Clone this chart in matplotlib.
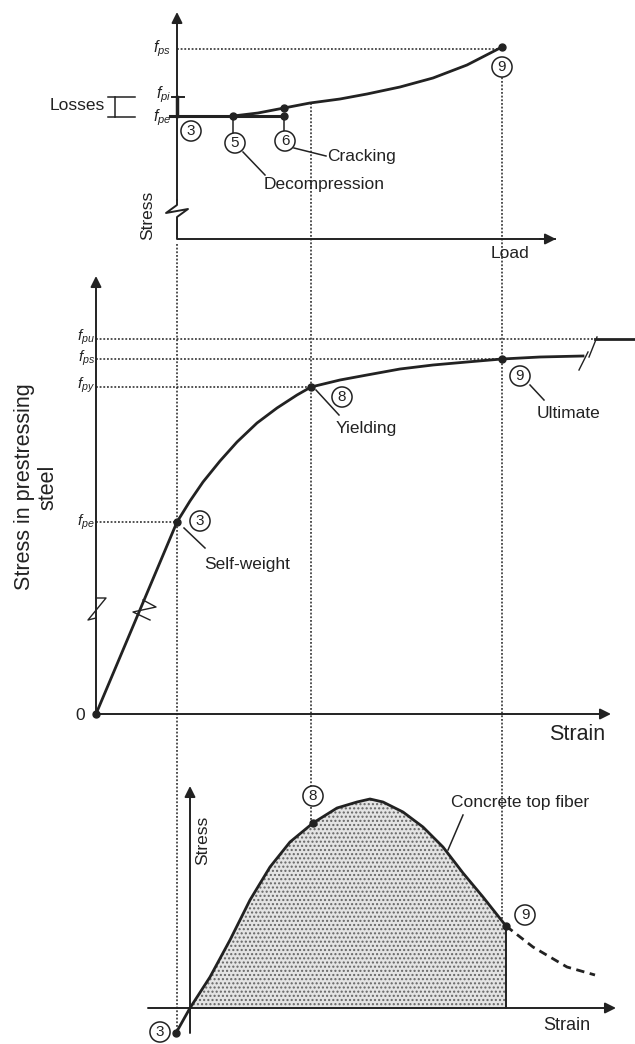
import matplotlib
matplotlib.use("Agg")
import matplotlib.pyplot as plt

plt.rcParams['font.family'] = ['Liberation Sans', 'DejaVu Sans']
plt.rcParams['mathtext.fontset'] = 'custom'
plt.rcParams['mathtext.rm'] = 'Liberation Sans'
plt.rcParams['mathtext.it'] = 'Liberation Sans:italic'
plt.rcParams['hatch.linewidth'] = 1.0

# everything in pixel units (x right, y down)
# top panel: stress in tendon vs load
top_curve_x = [233, 258, 284, 310, 340, 367, 400, 433, 467, 502]
top_curve_y = [116, 113, 108, 103, 99, 94, 87, 78, 65, 47]
top_levels = {"$f_{ps}$": 49, "$f_{pi}$": 95, "$f_{pe}$": 118}

# middle panel: stress-strain of prestressing steel
mid_curve_x = [96, 177, 190, 203, 220, 237, 257, 277, 297, 311, 340, 367, 400, 433, 467, 502, 540, 583]
mid_curve_y = [714, 522, 501, 482, 461, 442, 423, 408, 395, 387, 380, 375, 369, 365, 362, 359, 357, 356]
mid_after_break_x = [595, 635]
mid_after_break_y = [339, 339]
mid_levels = {"$f_{pu}$": 337, "$f_{ps}$": 358, "$f_{py}$": 385, "$f_{pe}$": 522}

# bottom panel: concrete top fiber stress vs strain
bot_curve_x = [176, 190, 210, 230, 250, 270, 290, 313, 337, 357, 370, 383, 403, 423, 443, 463, 483, 506]
bot_curve_y = [1033, 1008, 977, 940, 900, 867, 842, 823, 808, 802, 799, 802, 812, 827, 847, 873, 897, 926]
bot_tail_x = [506, 533, 567, 595]
bot_tail_y = [926, 947, 967, 975]

ink = "#222222"
dot = (0, (1.2, 1.2))

fig = plt.figure(figsize=(6.35, 10.44), dpi=100)
ax = fig.add_axes([0, 0, 1, 1])
ax.set_xlim(0, 635)
ax.set_ylim(1044, 0)
ax.axis("off")


def arrow(x0, y0, x1, y1):
    ax.annotate("", xy=(x1, y1), xytext=(x0, y0),
                arrowprops=dict(arrowstyle="-|>", color=ink, lw=1.4,
                                mutation_scale=16, shrinkA=0, shrinkB=0))


def circ(x, y, s):
    ax.text(x, y, s, ha="center", va="center", fontsize=11, color=ink, zorder=6,
            bbox=dict(boxstyle="circle,pad=0.2", fc="white", ec=ink, lw=1.1))


# ---------------- top panel ----------------
arrow(177, 200, 177, 12)
ax.plot([177, 177, 166, 188, 177, 177, 555], [200, 205, 213, 209, 217, 239, 239],
        color=ink, lw=1.4)
arrow(540, 239, 556, 239)
ax.plot([177, 177], [97, 116], color=ink, lw=2.5)
ax.plot([172, 184], [97, 97], color=ink, lw=1.4)
for lab, y in top_levels.items():
    ax.text(171, y, lab, ha="right", va="center", fontsize=11.5, color=ink)
ax.plot([177, 502], [49, 49], color=ink, lw=1.1, ls=dot)
ax.plot([108, 135], [97, 97], color=ink, lw=1.1)
ax.plot([108, 135], [117, 117], color=ink, lw=1.1)
ax.plot([115, 115], [97, 117], color=ink, lw=1.1)
ax.text(105, 105, "Losses", ha="right", va="center", fontsize=12.5, color=ink)
ax.plot([170, 284], [116, 116], color=ink, lw=2.2)
ax.plot(top_curve_x, top_curve_y, color=ink, lw=2.0)
ax.plot([233, 284, 284, 502], [116, 116, 108, 47], "o", color=ink, ms=5)
ax.plot([233, 233], [116, 134], color=ink, lw=1.1)
ax.plot([284, 284], [116, 132], color=ink, lw=1.1)
circ(191, 131, "3")
circ(235, 143, "5")
circ(285, 141, "6")
circ(502, 67, "9")
ax.plot([243, 265], [152, 175], color=ink, lw=1.1)
ax.plot([294, 326], [148, 156], color=ink, lw=1.1)
ax.text(264, 184, "Decompression", ha="left", va="center", fontsize=12.5, color=ink)
ax.text(327, 156, "Cracking", ha="left", va="center", fontsize=12.5, color=ink)
ax.text(148, 215, "Stress", ha="center", va="center", rotation=90, fontsize=12.5, color=ink)
ax.text(510, 254, "Load", ha="center", va="center", fontsize=12.5, color=ink)

# vertical projection lines
ax.plot([177, 177], [244, 1033], color=ink, lw=1.1, ls=dot, zorder=1)
ax.plot([311, 311], [103, 823], color=ink, lw=1.1, ls=dot, zorder=1)
ax.plot([502, 502], [70, 926], color=ink, lw=1.1, ls=dot, zorder=1)

# ---------------- middle panel ----------------
arrow(96, 714, 96, 276)
arrow(96, 714, 611, 714)
ax.plot([96, 106, 88, 96], [598, 598, 620, 618], color=ink, lw=1.0)
ax.plot([143, 156, 133, 150], [600, 607, 612, 620], color=ink, lw=1.0)
for lab, y in mid_levels.items():
    ax.text(95, y, lab, ha="right", va="center", fontsize=11, color=ink)
ax.plot([96, 595], [339, 339], color=ink, lw=1.1, ls=dot)
ax.plot([96, 502], [359, 359], color=ink, lw=1.1, ls=dot)
ax.plot([96, 311], [387, 387], color=ink, lw=1.1, ls=dot)
ax.plot([96, 177], [522, 522], color=ink, lw=1.1, ls=dot)
ax.plot(mid_curve_x, mid_curve_y, color=ink, lw=2.0)
ax.plot(mid_after_break_x, mid_after_break_y, color=ink, lw=2.0)
ax.plot([579, 588], [370, 352], color=ink, lw=1.0)
ax.plot([589, 597], [357, 337], color=ink, lw=1.0)
ax.plot([96, 177, 311, 502], [714, 522, 387, 359], "o", color=ink, ms=5, zorder=5)
ax.text(80, 715, "0", ha="center", va="center", fontsize=12.5, color=ink)
ax.text(605, 735, "Strain", ha="right", va="center", fontsize=15.5, color=ink)
ax.text(36, 487, "Stress in prestressing\nsteel", ha="center", va="center",
        rotation=90, fontsize=15.5, color=ink, linespacing=1.15)
circ(200, 521, "3")
circ(342, 397, "8")
circ(520, 376, "9")
ax.plot([184, 205], [528, 548], color=ink, lw=1.1)
ax.plot([316, 339], [390, 415], color=ink, lw=1.1)
ax.plot([530, 544], [385, 400], color=ink, lw=1.1)
ax.text(204, 565, "Self-weight", ha="left", va="center", fontsize=12.5, color=ink)
ax.text(336, 429, "Yielding", ha="left", va="center", fontsize=12.5, color=ink)
ax.text(537, 413, "Ultimate", ha="left", va="center", fontsize=12.5, color=ink)

# ---------------- bottom panel ----------------
ax.fill_between(bot_curve_x[1:], bot_curve_y[1:], 1008, facecolor="#e4e4e4",
                edgecolor="#666666", hatch="....", lw=0, zorder=1)
arrow(190, 1033, 190, 786)
arrow(148, 1008, 616, 1008)
ax.plot(bot_curve_x, bot_curve_y, color=ink, lw=2.0, zorder=4)
ax.plot([506, 506], [926, 1008], color=ink, lw=1.4)
ax.plot(bot_tail_x, bot_tail_y, color=ink, lw=2.0, ls=(0, (3, 2)))
ax.plot([176, 313, 506], [1033, 823, 926], "o", color=ink, ms=5, zorder=5)
circ(160, 1032, "3")
circ(313, 796, "8")
circ(525, 915, "9")
ax.plot([463, 448], [815, 850], color=ink, lw=1.1)
ax.text(451, 803, "Concrete top fiber", ha="left", va="center", fontsize=12.5, color=ink)
ax.text(203, 840, "Stress", ha="center", va="center", rotation=90, fontsize=12.5, color=ink)
ax.text(590, 1026, "Strain", ha="right", va="center", fontsize=13, color=ink)

fig.savefig("out.png", dpi=100)
